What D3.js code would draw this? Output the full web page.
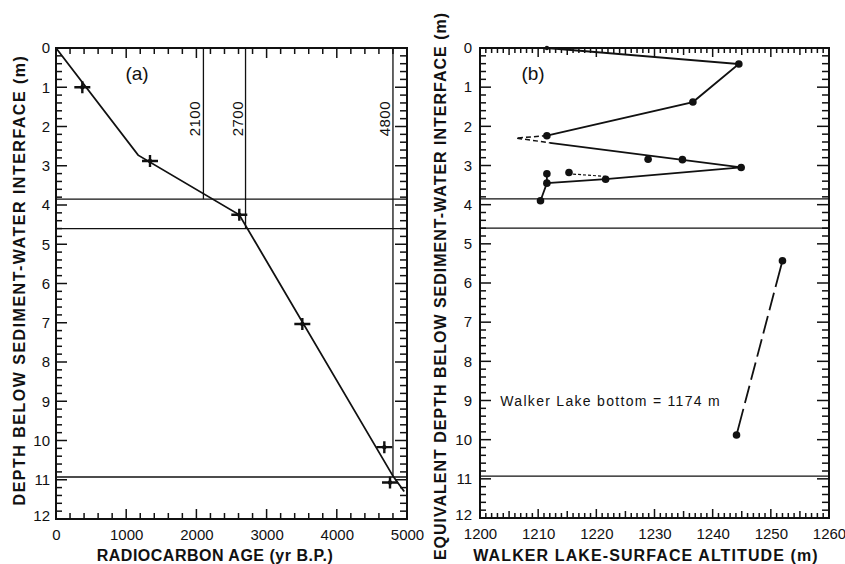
<!DOCTYPE html>
<html><head><meta charset="utf-8">
<script src="https://cdn.jsdelivr.net/npm/d3@7"></script>
<style>
body{margin:0;background:#fff;}
svg{display:block;}
text{font-family:"Liberation Sans",Arial,sans-serif;fill:#111;}
</style></head>
<body>
<script>
// ---------- DATA ----------
const depthTicks = [0,1,2,3,4,5,6,7,8,9,10,11,12];
const ageTicks = [0,1000,2000,3000,4000,5000];
const altTicks = [1200,1210,1220,1230,1240,1250,1260];

// minor tick positions (written out)
const depthMinor = [0,0.2,0.4,0.6,0.8,1,1.2,1.4,1.6,1.8,2,2.2,2.4,2.6,2.8,3,3.2,3.4,3.6,3.8,4,4.2,4.4,4.6,4.8,5,5.2,5.4,5.6,5.8,6,6.2,6.4,6.6,6.8,7,7.2,7.4,7.6,7.8,8,8.2,8.4,8.6,8.8,9,9.2,9.4,9.6,9.8,10,10.2,10.4,10.6,10.8,11,11.2,11.4,11.6,11.8,12];
const ageMinor = [0,200,400,600,800,1000,1200,1400,1600,1800,2000,2200,2400,2600,2800,3000,3200,3400,3600,3800,4000,4200,4400,4600,4800,5000];
const altMinor = [1200,1201,1202,1203,1204,1205,1206,1207,1208,1209,1210,1211,1212,1213,1214,1215,1216,1217,1218,1219,1220,1221,1222,1223,1224,1225,1226,1227,1228,1229,1230,1231,1232,1233,1234,1235,1236,1237,1238,1239,1240,1241,1242,1243,1244,1245,1246,1247,1248,1249,1250,1251,1252,1253,1254,1255,1256,1257,1258,1259,1260];

// Panel (a): age-depth line and dated samples
const ageDepthLine = [[0,0],[1170,2.73],[2611,4.25],[4805,10.92],[4960,11.3]];
const datedSamples = [[375,1.0],[1339,2.88],[2611,4.25],[3509,7.03],[4677,10.17],[4758,11.07]];
const refDepths = [3.85,4.6,10.93];
const refAges = [2100,2700,4800];
const refAgeEnds = [3.85,4.6,10.93];
const refAgeLabels = ["2100","2700","4800"];

// Panel (b): lake-surface altitude vs equivalent depth
const altSolid1 = [[1211.5,0],[1244.5,0.41],[1236.6,1.38],[1211.5,2.24]];
const altDashed1 = [[1211.5,2.24],[1206.2,2.3],[1212,2.42]];
const altSolid2 = [[1212,2.42],[1244.9,3.05],[1221.6,3.35],[1211.5,3.45],[1210.4,3.9]];
const altLink = [[1211.5,3.21],[1211.5,3.45]];
const altSmallDash = [[1216,3.27],[1221.6,3.33]];
const altPoints = [[1244.5,0.41],[1236.6,1.38],[1211.5,2.24],[1228.9,2.84],[1234.8,2.85],[1244.9,3.05],[1215.3,3.18],[1211.5,3.21],[1221.6,3.35],[1211.5,3.45],[1210.4,3.9]];
const altTopPoint = [[1211.5,0]];
const altLower = [[1244.1,9.88],[1252,5.43]];
const noteText = "Walker Lake bottom = 1174 m";
const noteAt = [1203.5,9.0];

// ---------- SCALES ----------
const W=845,H=564;
const svg=d3.select("body").append("svg").attr("width",W).attr("height",H);

const xA=d3.scaleLinear().domain([0,5000]).range([56,407]);
const yA=d3.scaleLinear().domain([0,12]).range([48,519]);
const xB=d3.scaleLinear().domain([1200,1260]).range([480,829]);
const yB=d3.scaleLinear().domain([0,12]).range([48,518]);

const isInt=v=>Math.abs(v-Math.round(v))<1e-6;

function labelAxis(g, axisFn, scale, vals, pad){
  const ax=axisFn(scale).tickValues(vals).tickSize(0).tickPadding(pad).tickFormat(d3.format("d"));
  g.call(ax);
  g.select(".domain").remove();
  g.selectAll(".tick line").remove();
  g.selectAll("text").attr("font-size",15).attr("fill","#111").style("font-family","'Liberation Sans',Arial,sans-serif");
  return g;
}

function frame(x,y,xLabels,labelPadY,labelPadX){
  const [x0,x1]=x.range(), [y0,y1]=y.range();
  svg.append("rect").attr("x",x0).attr("y",y0).attr("width",x1-x0).attr("height",y1-y0)
    .attr("fill","none").attr("stroke","#111").attr("stroke-width",2);
  const ly=labelAxis(svg.append("g").attr("transform",`translate(${x0},0)`),d3.axisLeft,y,depthTicks,labelPadY);
  ly.selectAll(".tick").filter(v=>v===12).select("text").attr("dy","0.1em");
  labelAxis(svg.append("g").attr("transform",`translate(0,${y1})`),d3.axisBottom,x,xLabels,labelPadX);
}
frame(xA,yA,ageTicks,6,10);
frame(xB,yB,altTicks,8,10);

function ticks(x,y,xVals,xLen){
  const [x0,x1]=x.range(), [y0,y1]=y.range();
  const g=svg.append("g").attr("stroke","#111").attr("stroke-width",1.5);
  const yLen=v=>isInt(v)?11:6;
  g.selectAll(".tl").data(depthMinor).enter().append("line")
    .attr("x1",x0).attr("x2",v=>x0+yLen(v)).attr("y1",v=>y(v)).attr("y2",v=>y(v));
  g.selectAll(".tr").data(depthMinor).enter().append("line")
    .attr("x1",x1).attr("x2",v=>x1-yLen(v)-1).attr("y1",v=>y(v)).attr("y2",v=>y(v));
  g.selectAll(".tt").data(xVals).enter().append("line")
    .attr("x1",v=>x(v)).attr("x2",v=>x(v)).attr("y1",y0).attr("y2",v=>y0+xLen(v));
  g.selectAll(".tb").data(xVals).enter().append("line")
    .attr("x1",v=>x(v)).attr("x2",v=>x(v)).attr("y1",y1).attr("y2",v=>y1-xLen(v));
}
ticks(xA,yA,ageMinor,v=>v%1000===0?10:6);
ticks(xB,yB,altMinor,v=>v%10===0?9:(v%5===0?7:5));

// ---------- PANEL A ----------
const gA=svg.append("g");
refDepths.forEach(d=>{
  gA.append("line").attr("x1",xA(0)).attr("x2",xA(5000)).attr("y1",yA(d)).attr("y2",yA(d))
    .attr("stroke","#111").attr("stroke-width",1.3);
});
refAges.forEach((a,i)=>{
  gA.append("line").attr("x1",xA(a)).attr("x2",xA(a)).attr("y1",yA(0)).attr("y2",yA(refAgeEnds[i]))
    .attr("stroke","#111").attr("stroke-width",1.3);
  gA.append("text").attr("transform",`translate(${xA(a)-3},${yA(1.8)}) rotate(-90)`)
    .attr("text-anchor","middle").attr("font-size",15).attr("letter-spacing","0.5px").text(refAgeLabels[i]);
});
const lineA=d3.line().x(d=>xA(d[0])).y(d=>yA(d[1]));
gA.append("path").attr("d",lineA(ageDepthLine)).attr("fill","none").attr("stroke","#111").attr("stroke-width",1.8);
gA.selectAll(".cross").data(datedSamples).join("path")
  .attr("d",d=>{const cx=xA(d[0]),cy=yA(d[1]);return `M${cx-8},${cy}H${cx+8}M${cx},${cy-6}V${cy+6}`;})
  .attr("stroke","#111").attr("stroke-width",2.4).attr("fill","none");
gA.selectAll(".crossc").data(datedSamples).join("circle")
  .attr("cx",d=>xA(d[0])).attr("cy",d=>yA(d[1])).attr("r",2.2).attr("fill","#111");
svg.append("text").attr("x",137).attr("y",80).attr("text-anchor","middle").attr("font-size",19).text("(a)");

// ---------- PANEL B ----------
const gB=svg.append("g");
refDepths.forEach(d=>{
  gB.append("line").attr("x1",xB(1200)).attr("x2",xB(1260)).attr("y1",yB(d)).attr("y2",yB(d))
    .attr("stroke","#111").attr("stroke-width",1.3);
});
const lineB=d3.line().x(d=>xB(d[0])).y(d=>yB(d[1]));
[altSolid1,altSolid2,altLink].forEach(s=>gB.append("path").attr("d",lineB(s)).attr("fill","none").attr("stroke","#111").attr("stroke-width",1.8));
gB.append("path").attr("d",lineB(altDashed1)).attr("fill","none").attr("stroke","#111").attr("stroke-width",1.5).attr("stroke-dasharray","5,3");
gB.append("path").attr("d",lineB(altSmallDash)).attr("fill","none").attr("stroke","#111").attr("stroke-width",1.2).attr("stroke-dasharray","3,2")
  .attr("transform","translate(0,-2)");
gB.selectAll(".pt").data(altPoints).join("circle").attr("cx",d=>xB(d[0])).attr("cy",d=>yB(d[1])).attr("r",3.8).attr("fill","#111");
gB.selectAll(".tp").data(altTopPoint).join("circle").attr("cx",d=>xB(d[0])).attr("cy",d=>yB(d[1])).attr("r",2.2).attr("fill","#111");
const lower=gB.append("path").attr("d",lineB(altLower)).attr("fill","none").attr("stroke","#111").attr("stroke-width",1.8);
{
  const L=lower.node().getTotalLength();
  const endSolid=27, gap=6, n=5;
  const dash=(L-2*endSolid-(n+1)*gap)/n;
  const arr=[endSolid];
  for(let i=0;i<n;i++){arr.push(gap,dash);} arr.push(gap,endSolid+5);
  lower.attr("stroke-dasharray",arr.map(v=>v.toFixed(1)).join(","));
}
gB.selectAll(".lp").data(altLower).join("circle").attr("cx",d=>xB(d[0])).attr("cy",d=>yB(d[1])).attr("r",3.8).attr("fill","#111");
svg.append("text").attr("x",xB(noteAt[0])).attr("y",yB(noteAt[1])+5).attr("font-size",14).attr("letter-spacing","1.3px").text(noteText);
svg.append("text").attr("x",533).attr("y",80).attr("text-anchor","middle").attr("font-size",19).text("(b)");

// ---------- AXIS TITLES ----------
svg.append("text").attr("transform",`translate(25,280) rotate(-90)`).attr("text-anchor","middle")
  .attr("font-size",16).attr("font-weight","bold").attr("letter-spacing","1.5px").text("DEPTH BELOW SEDIMENT-WATER INTERFACE (m)");
svg.append("text").attr("transform",`translate(446,286) rotate(-90)`).attr("text-anchor","middle")
  .attr("font-size",16).attr("font-weight","bold").attr("letter-spacing","1px").text("EQUIVALENT DEPTH BELOW SEDIMENT-WATER INTERFACE (m)");
svg.append("text").attr("x",215).attr("y",561).attr("text-anchor","middle")
  .attr("font-size",16).attr("font-weight","bold").attr("letter-spacing","0.5px").text("RADIOCARBON AGE (yr B.P.)");
svg.append("text").attr("x",646).attr("y",561).attr("text-anchor","middle")
  .attr("font-size",16).attr("font-weight","bold").attr("letter-spacing","1.1px").text("WALKER LAKE-SURFACE ALTITUDE (m)");
</script>
</body></html>
